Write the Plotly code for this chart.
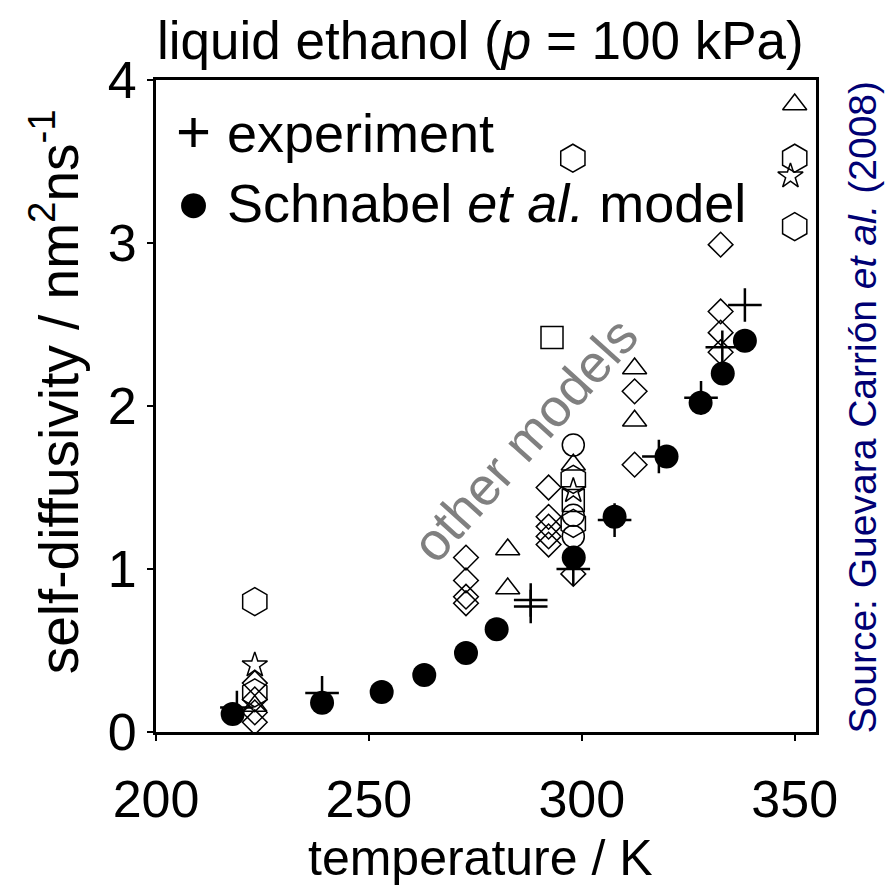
import plotly.graph_objects as go

# ---- data ----
schnabel_T = [218, 239, 253, 263, 272.8, 280, 298.1, 307.7, 319.9, 327.9, 333.1, 338.3]
schnabel_D = [0.11, 0.18, 0.245, 0.35, 0.485, 0.63, 1.07, 1.32, 1.69, 2.02, 2.20, 2.40]

exp_T = [219, 239, 288, 288, 298, 307.7, 318.1, 328, 333, 338.3]
exp_D = [0.15, 0.24, 0.81, 0.77, 1.00, 1.30, 1.69, 2.05, 2.36, 2.62]

diamond_T = [223.2, 223.2, 223.2, 223.2, 272.8, 272.8, 272.8, 272.8,
             292.2, 292.2, 292.2, 292.2, 292.2, 298, 312.4, 312.4,
             332.6, 332.6, 332.6, 332.6]
diamond_D = [0.30, 0.20, 0.12, 0.06, 1.07, 0.93, 0.83, 0.79,
             1.50, 1.32, 1.26, 1.20, 1.15, 0.97, 2.09, 1.64,
             2.99, 2.58, 2.45, 2.33]

triangle_T = [223.2, 282.6, 282.6, 298, 312.4, 312.4, 350]
triangle_D = [0.16, 1.12, 0.88, 1.64, 2.23, 1.91, 3.85]

hexagon_T = [223.2, 223.2, 297.9, 298, 298, 350, 350]
hexagon_D = [0.80, 0.24, 3.52, 1.55, 1.28, 3.52, 3.10]

circle_T = [298, 298, 298]
circle_D = [1.76, 1.33, 1.20]

square_T = [293, 298]
square_D = [2.42, 1.42]

star_T = [223.2, 298, 349]
star_D = [0.41, 1.48, 3.41]

x_ticks = [200, 250, 300, 350]
y_ticks = [0, 1, 2, 3, 4]

FONT = "Liberation Sans, Arial, sans-serif"

fig = go.Figure()

def open_trace(T, D, symbol, size):
    fig.add_trace(go.Scatter(
        x=T, y=D, mode="markers", showlegend=False, hoverinfo="skip",
        marker=dict(symbol=symbol, size=size, color="black",
                    line=dict(color="black", width=1.5))))

open_trace(diamond_T, diamond_D, "diamond-open", 19)
open_trace(triangle_T, triangle_D, "triangle-up-open", 21)
open_trace(hexagon_T, hexagon_D, "hexagon-open", 28)
open_trace(circle_T, circle_D, "circle-open", 22)
open_trace(square_T, square_D, "square-open", 22)
open_trace(star_T, star_D, "star-open", 19)

fig.add_trace(go.Scatter(
    x=exp_T, y=exp_D, mode="markers", showlegend=False, hoverinfo="skip",
    marker=dict(symbol="cross-thin", size=24, color="black",
                line=dict(color="black", width=2.5))))

fig.add_trace(go.Scatter(
    x=schnabel_T, y=schnabel_D, mode="markers", showlegend=False, hoverinfo="skip",
    marker=dict(symbol="circle", size=24, color="black",
                line=dict(color="black", width=0))))

axis_common = dict(showline=True, mirror=True, linecolor="black", linewidth=3,
                   ticks="outside", ticklen=6, tickwidth=2, tickcolor="black",
                   showgrid=False, zeroline=False,
                   tickfont=dict(family=FONT, size=52, color="black"))

fig.update_xaxes(range=[200, 355], tickvals=x_ticks, ticklabelstandoff=14, **axis_common)
fig.update_yaxes(range=[0, 4], tickvals=y_ticks, ticklabelstandoff=0, **axis_common)

ann = []
ann.append(dict(text="liquid ethanol (<i>p</i> = 100 kPa)", x=0.491, y=1.061,
                font=dict(size=53)))
ann.append(dict(text="temperature / K", x=0.491, y=-0.193, font=dict(size=50)))
ann.append(dict(text="self-diffusivity / nm<sup>2</sup>ns<sup>-1</sup>", x=-0.153, y=0.521,
                textangle=-90, font=dict(size=55)))
ann.append(dict(text="Source: Guevara Carrión <i>et al.</i> (2008)", x=1.07, y=0.498,
                textangle=-90, font=dict(size=39, color="#000073")))
ann.append(dict(text="other models", x=0.559, y=0.448, textangle=-48,
                font=dict(size=53, color="#808080")))
ann.append(dict(text="+", x=0.027, y=0.921, xanchor="left", font=dict(size=60)))
ann.append(dict(text="experiment", x=0.105, y=0.919, xanchor="left", font=dict(size=54)))
ann.append(dict(text="\u25CF", x=0.027, y=0.813, xanchor="left", font=dict(size=58)))
ann.append(dict(text="Schnabel <i>et al.</i> model", x=0.105, y=0.811, xanchor="left",
                font=dict(size=54)))

for a in ann:
    a.setdefault("xanchor", "center")
    a.update(xref="paper", yref="paper", showarrow=False, yanchor="middle")
    f = a["font"]
    f.setdefault("color", "black")
    f["family"] = FONT

fig.update_layout(
    width=892, height=891,
    margin=dict(l=156, r=76, t=80, b=159),
    paper_bgcolor="white", plot_bgcolor="white",
    annotations=ann,
)

fig.write_html("out.html")
